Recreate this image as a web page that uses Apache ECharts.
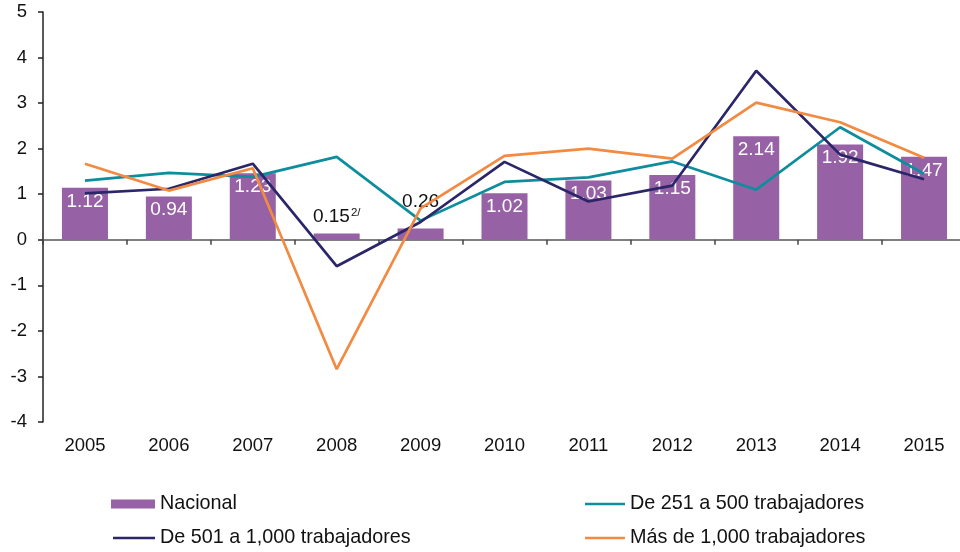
<!DOCTYPE html>
<html>
<head>
<meta charset="utf-8">
<script src="https://cdn.jsdelivr.net/npm/echarts@6/dist/echarts.min.js"></script>
<style>
  html, body { margin: 0; padding: 0; background: #fff; }
  #chart { width: 960px; height: 552px; }
</style>
</head>
<body>
<div id="chart"></div>
<script>
// años
var years = ['2005', '2006', '2007', '2008', '2009', '2010', '2011', '2012', '2013', '2014', '2015'];
// Nacional: altura de las barras tal como están dibujadas
var nacional = [1.14, 0.95, 1.46, 0.14, 0.25, 1.02, 1.30, 1.42, 2.27, 2.09, 1.82];
// etiquetas de las barras
var nacionalLabels = ['1.12', '0.94', '1.23', '0.15', '0.26', '1.02', '1.03', '1.15', '2.14', '1.92', '1.47'];
var de251a500 = [1.30, 1.47, 1.38, 1.82, 0.42, 1.27, 1.37, 1.72, 1.10, 2.47, 1.45];
var de501a1000 = [1.02, 1.12, 1.67, -0.58, 0.39, 1.71, 0.84, 1.19, 3.71, 1.87, 1.33];
var masDe1000 = [1.67, 1.08, 1.57, -2.84, 0.69, 1.84, 2.00, 1.78, 3.01, 2.58, 1.80];
var yTicks = [-4, -3, -2, -1, 0, 1, 2, 3, 4, 5];

var FONT = '"Liberation Sans", Arial, Helvetica, sans-serif';
var COLORS = {
    nacional: '#9661a5',
    teal: '#0e8d9c',
    navy: '#2b2667',
    orange: '#f28a41'
};

var chart = echarts.init(document.getElementById('chart'));

// datos de barras con etiquetas (2008 y 2009 van por encima en negro)
var barData = nacional.map(function (v, i) {
    var item = { value: v };
    if (i === 3) {
        item.label = {
            position: 'top', distance: 6, color: '#111',
            formatter: '{a|' + nacionalLabels[i] + '}{sup|2/}'
        };
    } else if (i === 4) {
        item.label = { position: 'top', distance: 17, color: '#111' };
    }
    return item;
});

var lineSeries = function (name, data, color) {
    return {
        name: name,
        type: 'line',
        data: data,
        symbol: 'none',
        lineStyle: { color: color, width: 2.7 },
        itemStyle: { color: color },
        z: 3
    };
};

// una leyenda por elemento para colocarlas como en el original
var legendItem = function (name, left, top, w, h) {
    return {
        left: left, top: top, padding: 0,
        itemWidth: w, itemHeight: h, icon: 'rect',
        textStyle: { fontFamily: FONT, fontSize: 19.8, color: '#111', lineHeight: 22 },
        data: [name]
    };
};

chart.setOption({
    animation: false,
    textStyle: { fontFamily: FONT },
    grid: { left: 43, top: 12, width: 923, height: 410, outerBoundsMode: 'none' },
    legend: [
        legendItem('Nacional', 111, 493, 44, 9),
        legendItem('De 501 a 1,000 trabajadores', 113, 527, 42, 2.5),
        legendItem('De 251 a 500 trabajadores', 585, 493, 40, 2.5),
        legendItem('Más de 1,000 trabajadores', 585, 527, 40, 2.5)
    ],
    xAxis: [
        {
            // línea en cero con marcas
            type: 'category',
            data: years,
            axisLine: { onZero: true, lineStyle: { color: '#555', width: 1.5 } },
            axisTick: { show: true, length: 5, lineStyle: { color: '#444', width: 1.5 } },
            axisLabel: { show: false }
        },
        {
            // etiquetas abajo
            type: 'category',
            data: years,
            position: 'bottom',
            axisLine: { show: false, onZero: false },
            axisTick: { show: false },
            axisLabel: { fontFamily: FONT, fontSize: 18.5, color: '#111', margin: 14 }
        }
    ],
    yAxis: {
        type: 'value',
        min: yTicks[0], max: yTicks[yTicks.length - 1], interval: 1,
        axisLine: { show: true, lineStyle: { color: '#222', width: 1.5 } },
        axisTick: { show: true, length: 5, lineStyle: { color: '#222', width: 1.5 } },
        axisLabel: { fontFamily: FONT, fontSize: 18.5, color: '#111', margin: 16 },
        splitLine: { show: false }
    },
    series: [
        {
            name: 'Nacional',
            type: 'bar',
            xAxisIndex: 0,
            data: barData,
            barWidth: 46,
            itemStyle: { color: COLORS.nacional },
            label: {
                show: true,
                position: 'insideTop',
                distance: 4,
                color: '#fff',
                fontFamily: FONT,
                fontSize: 19,
                formatter: function (p) { return nacionalLabels[p.dataIndex]; },
                rich: {
                    a: { fontFamily: FONT, fontSize: 19, color: '#111' },
                    sup: { fontFamily: FONT, fontSize: 11.5, color: '#111', verticalAlign: 'top', padding: [0, 0, 9, 1] }
                }
            },
            z: 2
        },
        lineSeries('De 251 a 500 trabajadores', de251a500, COLORS.teal),
        lineSeries('De 501 a 1,000 trabajadores', de501a1000, COLORS.navy),
        lineSeries('Más de 1,000 trabajadores', masDe1000, COLORS.orange)
    ]
});
</script>
</body>
</html>
